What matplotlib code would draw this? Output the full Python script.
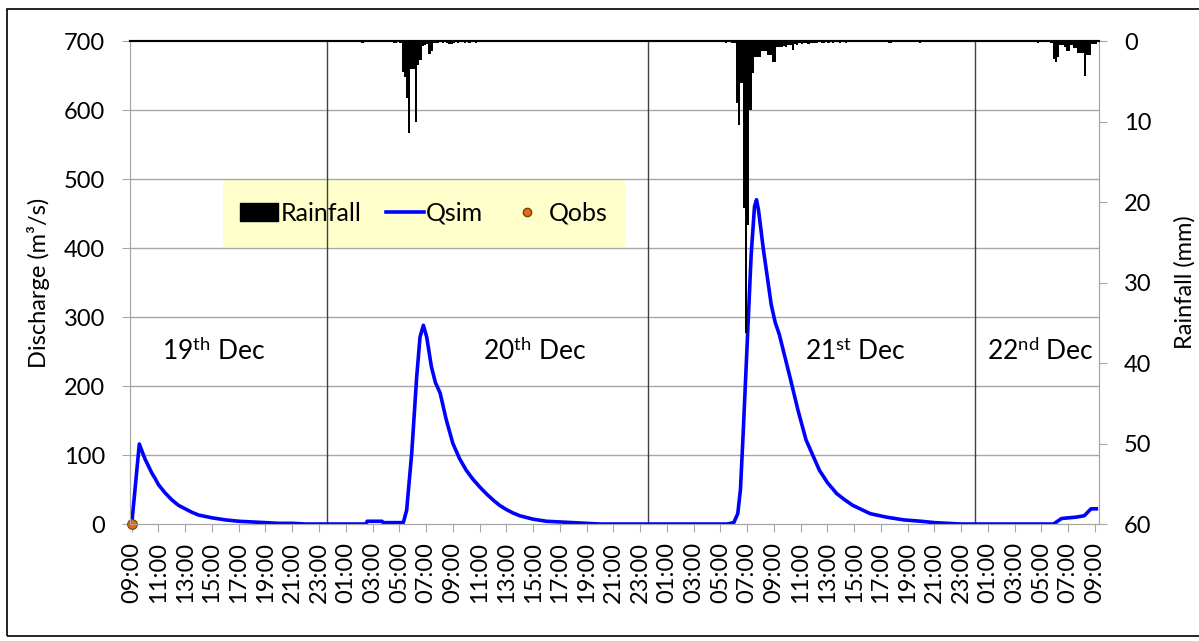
import numpy as np
import matplotlib
matplotlib.use('Agg')
import matplotlib.pyplot as plt
from matplotlib.patches import Rectangle, Patch
from matplotlib.lines import Line2D

plt.rcParams['font.family'] = ['Lato', 'DejaVu Sans']
plt.rcParams['mathtext.fontset'] = 'custom'
plt.rcParams['mathtext.rm'] = 'Lato'
plt.rcParams['mathtext.it'] = 'Lato:italic'

# hours counted from 09:00 on 19th Dec
q_hours = [0, 0.57, 0.8, 1.0, 1.25, 1.5, 1.75, 2.0, 2.5, 3.0, 3.5, 4.0, 4.5, 5.0, 6.0, 7.0, 8.0,
           9.0, 10.0, 11.0, 12.0, 13.0,
           17.5, 17.6, 18.7, 18.8, 20.3, 20.55, 20.93, 21.3, 21.55, 21.8, 22.05, 22.4, 22.7,
           23.05, 23.5, 24.0, 24.5, 25.0, 25.5, 26.0, 26.5, 27.0, 27.5, 28.0, 28.5, 29.0, 30.0,
           31.0, 32.0, 33.0, 34.0, 35.0,
           44.5, 45.0, 45.3, 45.5, 45.7, 46.0, 46.3, 46.55, 46.7, 46.85, 47.2, 47.8, 48.1, 48.4,
           49.2, 49.8, 50.4, 51.4, 52.0, 52.7, 53.3, 53.9, 55.2, 56.4, 57.7, 59.0, 60.0, 61.0,
           62.0,
           68.9, 69.5, 70.6, 71.2, 71.7, 72.1]
q_sim = [0, 116, 104, 94, 84, 74, 66, 57, 45, 35, 27, 22, 17, 13, 9, 6, 4,
         3, 2, 1, 1, 0,
         0, 4, 4, 2, 2, 20, 103, 213, 271, 288, 271, 228, 205,
         190, 152, 117, 95, 78, 65, 54, 44, 35, 27, 21, 16, 12, 7,
         4, 3, 2, 1, 0,
         0, 2, 15, 50, 130, 260, 390, 460, 470, 455, 400, 318, 292, 275,
         213, 165, 122, 78, 60, 44, 35, 27, 15, 10, 6, 4, 2, 1,
         0,
         0, 8, 10, 12, 22, 22]

q_obs_hours = [0]
q_obs = [0]

# rainfall, 10-minute totals (mm)
rain_step = 1 / 6
rain1_start = 20.0
rain1 = [0.3, 3.8, 4.5, 7.1, 11.4, 3.5, 3.5, 10.0, 3.0, 2.4, 0.6, 0.5, 0.4, 1.6, 1.2, 0.3,
         0.2, 0.2, 0.1, 0.2, 0.1, 0.2, 0.4, 0.4, 0.2, 0.1, 0.2, 0.1, 0.1, 0.2, 0.1, 0.3,
         0.1, 0.1, 0.2, 0.1, 0.1]
rain2_start = 45.0
rain2 = [0.3, 7.7, 10.4, 5.2, 20.7, 36.3, 22.9, 8.6, 4.0, 2.0, 2.0, 2.0, 1.3, 1.3, 1.3, 1.7,
         1.7, 2.6, 2.6, 0.7, 0.7, 0.7, 0.6, 0.7, 0.5, 0.5, 1.1, 0.4, 0.5, 0.3, 0.4, 0.3,
         0.2, 0.4, 0.3, 0.2, 0.3, 0.2, 0.1, 0.2, 0.2, 0.1, 0.2, 0.1, 0.2, 0.1, 0.1, 0.2,
         0.1, 0.1, 0.2, 0.1, 0.1, 0.1]
rain3_start = 68.667
rain3 = [0.3, 2.2, 2.6, 2.0, 0.5, 0.5, 0.7, 1.3, 1.3, 0.5, 0.9, 0.9, 1.5, 1.5, 1.5, 4.4,
         1.7, 1.7, 0.4, 0.4, 0.4]
rain_extra_hours = [17.17, 19.5, 19.67, 44.33, 44.83, 56.5, 56.67, 58.83, 67.67]
rain_extra_mm = [0.3, 0.2, 0.2, 0.2, 0.3, 0.3, 0.2, 0.2, 0.3]

day_lines = [14.6, 38.6, 63.0]
day_labels = [r'19$^{\mathrm{th}}$ Dec', r'20$^{\mathrm{th}}$ Dec',
              r'21$^{\mathrm{st}}$ Dec', r'22$^{\mathrm{nd}}$ Dec']
day_label_x = [6.15, 30.1, 54.1, 67.9]

tick_hours = list(range(0, 73, 2))
tick_labels = ['%02d:00' % ((9 + h) % 24) for h in tick_hours]

rain_h, rain_mm = [], []
for start, vals in [(rain1_start, rain1), (rain2_start, rain2), (rain3_start, rain3)]:
    rain_h += [start + i * rain_step for i in range(len(vals))]
    rain_mm += vals
rain_h += rain_extra_hours
rain_mm += rain_extra_mm

fig = plt.figure(figsize=(11.99, 6.41), dpi=100)
ax = fig.add_axes([0.1084, 0.1825, 0.8082, 0.7535])
ax2 = ax.twinx()

grid_c = '#a6a6a6'
ax.set_xlim(-0.13, 72.3)
ax.set_ylim(0, 700)
ax.set_yticks(range(0, 701, 100))
for v in range(100, 700, 100):
    ax.axhline(v, color=grid_c, lw=1.0, zorder=0.5)
for d in day_lines:
    ax.axvline(d, color='#404040', lw=1.0, zorder=2)

# legend background
fig.patches.append(Rectangle((0.186, 0.6147), 0.335, 0.106, transform=fig.transFigure,
                             facecolor='#ffffcc', edgecolor='none', zorder=0.8))
ax.set_zorder(1)
ax.patch.set_alpha(0)

ax.plot(q_hours, q_sim, color='#0000ff', lw=2.6, zorder=3, solid_joinstyle='round')
ax.plot(q_obs_hours, q_obs, 'o', color='#e46c0a', mec='#7f3f0a', ms=7, mew=0.8, zorder=5,
        clip_on=False)

for x, s in zip(day_label_x, day_labels):
    ax.text(x, 250, s, fontsize=19, ha='center', va='center', zorder=4)

ax2.bar(rain_h, rain_mm, width=rain_step, align='edge', color='black', lw=0)
ax2.set_ylim(60, 0)
ax2.set_yticks(range(0, 61, 10))
ax2.set_zorder(2)

ax.set_xticks(tick_hours)
ax.set_xticklabels(tick_labels, rotation=90, fontsize=17)
ax.tick_params(axis='x', length=6, color=grid_c, pad=7)
ax.tick_params(axis='y', length=6, color=grid_c, pad=12, labelsize=17)
ax2.tick_params(axis='y', length=6, color=grid_c, pad=12, labelsize=17)

for a in (ax, ax2):
    for side in ('left', 'right', 'bottom'):
        a.spines[side].set_color(grid_c)
    a.spines['top'].set_color('black')
    a.spines['top'].set_linewidth(1.5)

ax.set_ylabel('Discharge (m³/s)', fontsize=17, labelpad=10)
ax2.set_ylabel('Rainfall (mm)', fontsize=17, labelpad=16)

handles = [Patch(facecolor='black', edgecolor='black'),
           Line2D([], [], color='#0000ff', lw=2.6),
           Line2D([], [], marker='o', ls='none', color='#e46c0a', mec='#7f3f0a', ms=6)]
leg = fig.legend(handles, ['Rainfall', 'Qsim', 'Qobs'], ncol=3, frameon=False, fontsize=18,
                 loc='center', bbox_to_anchor=(0.186 + 0.335 / 2, 0.6147 + 0.053),
                 handlelength=1.5, handletextpad=0.1, columnspacing=1.0)
leg.set_zorder(10)

fig.patches.append(Rectangle((0.006, 0.008), 1.05, 0.978, transform=fig.transFigure,
                             fill=False, edgecolor='black', lw=1.2))

fig.savefig('out.png', dpi=100)
